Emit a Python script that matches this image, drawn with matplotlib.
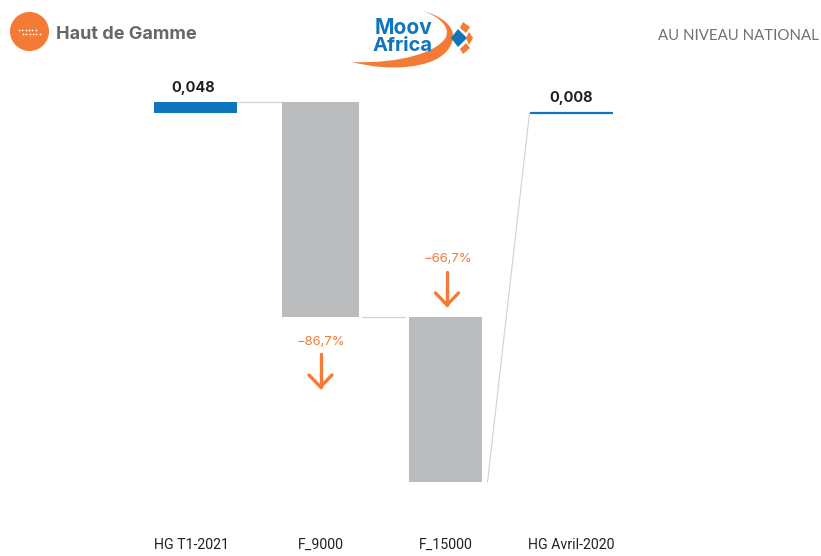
import matplotlib
matplotlib.use("Agg")
import matplotlib.pyplot as plt
from matplotlib.patches import Circle, PathPatch, Polygon
from matplotlib.path import Path

categories = ["HG T1-2021", "F_9000", "F_15000", "HG Avril-2020"]
value_labels = ["0,048", "0,008"]
start_level = 0.048
end_level = 0.0466
drops = [0.0272, 0.0208]
blue_thickness = 0.0014
pct_labels = ["\u221286,7%", "\u221266,7%"]

W, H = 821, 556
ORANGE = "#F47B35"
BLUE = "#0F75BC"
GREY = "#BBBCBE"
LINE = "#D0D1D2"

fig = plt.figure(figsize=(W / 100, H / 100), dpi=100, facecolor="white")

# chart axes: x = category index, y = value
ax = fig.add_axes([0, 0, 1, 1])
k = 0.048 / 380
step = 125.0
ax.set_xlim(-195.5 / step, (W - 195.5) / step)
ax.set_ylim(-74 * k, 0.048 + 102 * k)
ax.axis("off")

# pixel overlay for header + annotations
px = fig.add_axes([0, 0, 1, 1], zorder=5)
px.set_xlim(0, W)
px.set_ylim(H, 0)
px.axis("off")
px.patch.set_alpha(0)

# bars
ax.bar(0, blue_thickness, bottom=start_level - blue_thickness, width=83 / step, color=BLUE, linewidth=0)
lvl1 = start_level - drops[0]
lvl2 = lvl1 - drops[1]
ax.bar(1, drops[0], bottom=lvl1, width=77 / step, color=GREY, linewidth=0)
ax.bar(2, drops[1], bottom=lvl2, width=73 / step, color=GREY, linewidth=0)
ax.plot([3 - 41 / step, 3 + 42 / step], [end_level, end_level], color=BLUE, lw=1.6,
        solid_capstyle="butt")

# connectors
ax.plot([0 + 41.5 / step, 1 - 40 / step], [start_level, start_level], color=LINE, lw=0.9)
ax.plot([1 + 41 / step, 2 - 41 / step], [lvl1, lvl1], color=LINE, lw=0.9)
ax.plot([2 + 42 / step, 3 - 41 / step], [lvl2, end_level], color=LINE, lw=0.8)

# value labels
lab_font = dict(family="Inter", fontweight="bold", color="#1F2224", fontsize=10.5,
                ha="center", va="center")
px.text(193.5, 88, value_labels[0], **lab_font)
px.text(571, 98, value_labels[1], **lab_font)

# category labels
for i, c in enumerate(categories):
    x = [191, 320.5, 445.5, 571][i]
    px.text(x, 545, c, family="Roboto", fontsize=10.2, color="#1F2224",
            ha="center", va="center")

# percentages and arrows
px.text(321, 342, pct_labels[0], family="Inter", fontsize=9.4, color=ORANGE, ha="center", va="center")
px.text(447.5, 259, pct_labels[1], family="Inter", fontsize=9.4, color=ORANGE, ha="center", va="center")
for x, y0, y1 in [(320.5, 354, 387), (447, 272, 305)]:
    px.plot([x, x], [y0, y1], color=ORANGE, lw=2.4, solid_capstyle="round")
    px.plot([x - 11.5, x, x + 11.5], [y1 - 12, y1, y1 - 12], color=ORANGE, lw=2.4,
            solid_capstyle="round", solid_joinstyle="miter")

# header left
px.add_patch(Circle((29.5, 31.5), 19.5, color=ORANGE, lw=0))
xs = [19 + 3.3 * i for i in range(6)] + [23 + 3.3 * i for i in range(6)]
ys = [30] * 6 + [34] * 6
px.scatter(xs, ys, s=1.6, color="white", lw=0)
px.text(56, 34.5, "Haut de Gamme", family="Inter", fontweight="bold", fontsize=13,
        color="#636868", ha="left", va="center")

# header right
px.text(819, 35.5, "AU NIVEAU NATIONAL", family="Lato", fontsize=10.8, color="#6E7274",
        ha="right", va="center")

# logo
verts = [(352, 62), (390, 72), (430, 68), (445, 53), (460, 38), (455, 20), (423, 11),
         (440, 17), (450, 27), (446, 37), (438, 52), (400, 64), (352, 62), (352, 62)]
codes = [Path.MOVETO, Path.CURVE4, Path.CURVE4, Path.CURVE4, Path.CURVE4, Path.CURVE4, Path.CURVE4,
         Path.CURVE4, Path.CURVE4, Path.CURVE4, Path.CURVE4, Path.CURVE4, Path.CURVE4, Path.CLOSEPOLY]
px.add_patch(PathPatch(Path(verts, codes), facecolor=ORANGE, lw=0))
px.add_patch(Polygon([(458, 29), (467, 38), (458, 47), (451, 38)], facecolor=BLUE, lw=0))
px.add_patch(Polygon([(463, 22), (470, 27), (466, 33), (460, 28)], facecolor=ORANGE, lw=0))
px.add_patch(Polygon([(469, 32), (473, 38), (469, 45), (466, 38)], facecolor=ORANGE, lw=0))
px.add_patch(Polygon([(463, 54), (460, 49), (466, 43), (470, 48)], facecolor=ORANGE, lw=0))
px.text(403, 34, "Moov", family="Inter", fontweight="bold", fontsize=15, color=BLUE,
        ha="center", va="baseline")
px.text(403, 51, "Africa", family="Inter", fontweight="bold", fontsize=14.5, color=BLUE,
        ha="center", va="baseline")

fig.savefig("out.png", dpi=100, facecolor="white")
